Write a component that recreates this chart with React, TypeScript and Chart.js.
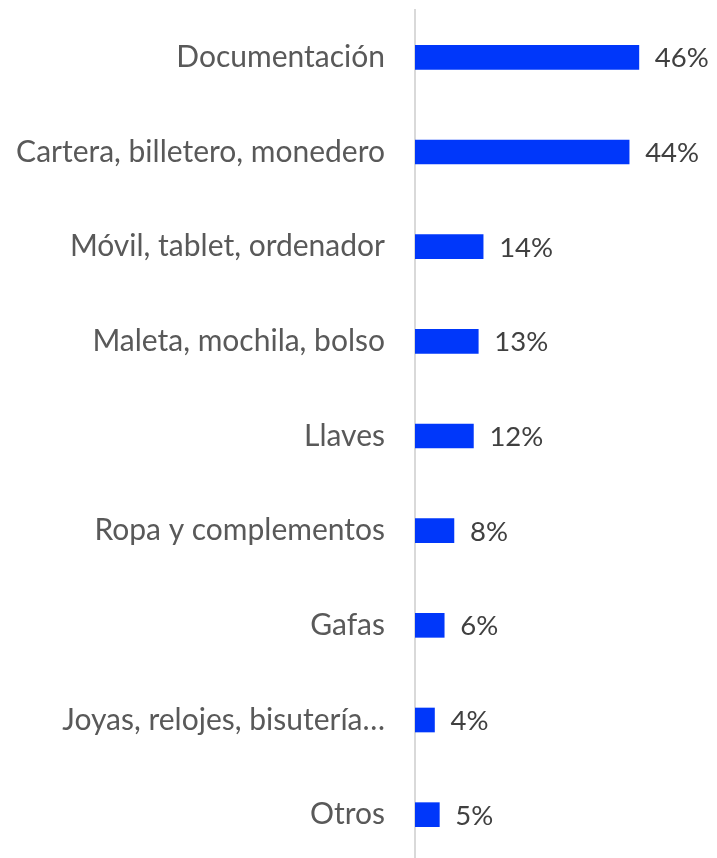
import React, { useEffect, useRef } from "react";
import { Chart, registerables } from "chart.js";

Chart.register(...registerables);

const categories = [
  "Documentación",
  "Cartera, billetero, monedero",
  "Móvil, tablet, ordenador",
  "Maleta, mochila, bolso",
  "Llaves",
  "Ropa y complementos",
  "Gafas",
  "Joyas, relojes, bisutería…",
  "Otros",
];
const values = [46, 44, 14, 13, 12, 8, 6, 4, 5];
const valueLabels = ["46%", "44%", "14%", "13%", "12%", "8%", "6%", "4%", "5%"];

const FONT = "Lato, 'Noto Sans', sans-serif";

const dataLabelPlugin = {
  id: "dataLabels",
  afterDatasetsDraw(chart: any) {
    const ctx = chart.ctx;
    const meta = chart.getDatasetMeta(0);
    ctx.save();
    ctx.font = `27.5px ${FONT}`;
    ctx.fillStyle = "#404040";
    ctx.textAlign = "left";
    ctx.textBaseline = "middle";
    meta.data.forEach((bar: any, i: number) => {
      ctx.fillText(valueLabels[i], bar.x + 16, bar.y + 1);
    });
    ctx.restore();
  },
};

export default function App() {
  const ref = useRef<HTMLCanvasElement>(null);
  useEffect(() => {
    if (!ref.current) return;
    const chart = new Chart(ref.current, {
      type: "bar",
      data: {
        labels: categories,
        datasets: [
          {
            data: values,
            backgroundColor: "#0037FA",
            borderWidth: 0,
            barThickness: 24,
          },
        ],
      },
      options: {
        indexAxis: "y",
        animation: false,
        responsive: true,
        maintainAspectRatio: false,
        layout: { padding: { top: 10, right: 10, bottom: 4, left: 0 } },
        plugins: { legend: { display: false }, tooltip: { enabled: false } },
        scales: {
          x: {
            display: false,
            min: 0,
            max: 60,
          },
          y: {
            grid: { display: false, drawTicks: false },
            border: { display: true, color: "#d9d9d9", width: 2 },
            ticks: {
              padding: 30,
              color: "#595959",
              font: { family: FONT, size: 30 },
            },
            afterFit(scale: any) {
              scale.width = 415;
              scale.paddingTop = 0;
              scale.paddingBottom = 0;
            },
          },
        },
      },
      plugins: [dataLabelPlugin],
    });
    return () => chart.destroy();
  }, []);
  return (
    <div style={{ position: "fixed", left: 0, top: 0, width: 717, height: 866, background: "#fff" }}>
      <canvas ref={ref} />
    </div>
  );
}
